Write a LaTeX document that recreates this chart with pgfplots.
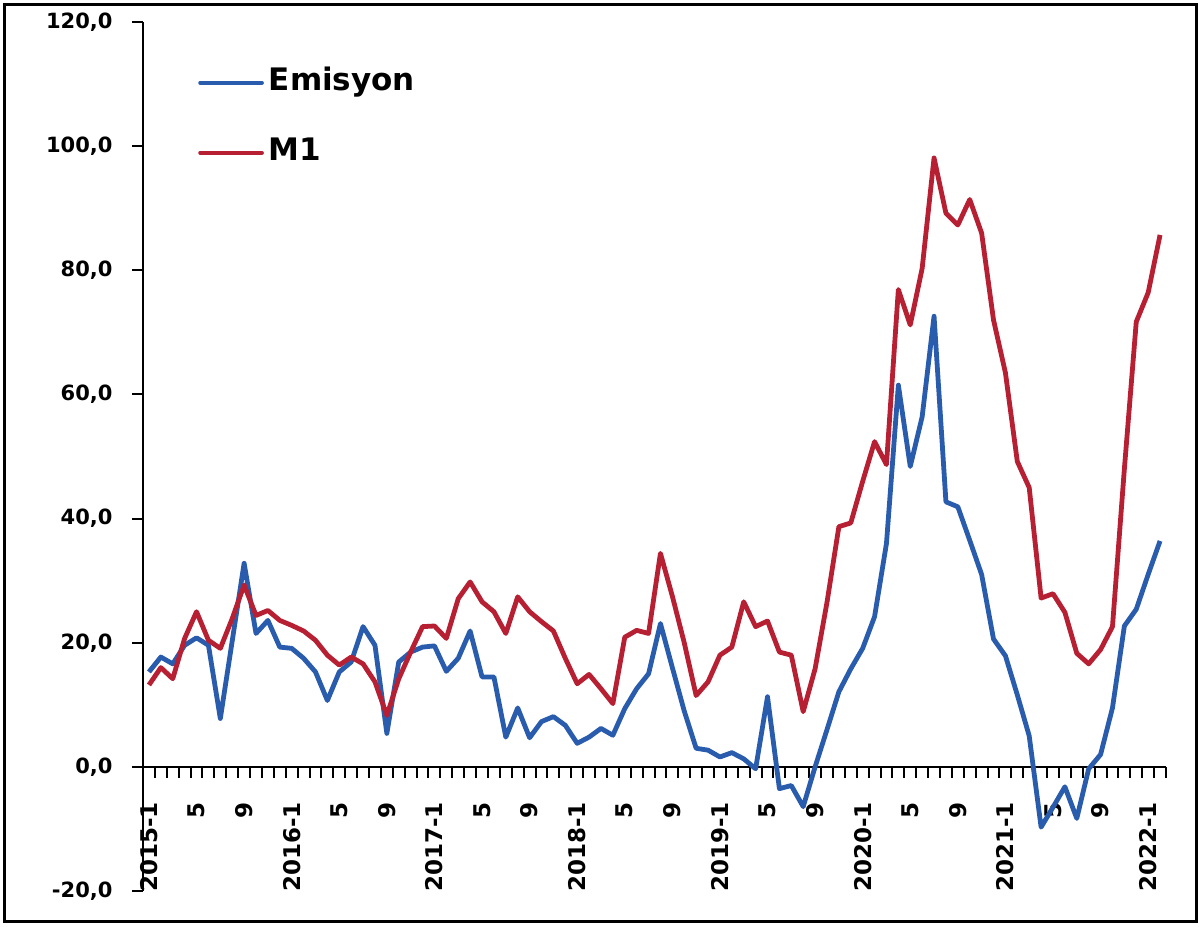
\documentclass[border=0pt]{standalone}
\usepackage{fontspec}
\setmainfont{DejaVu Sans}
\usepackage{pgfplots}
\usepackage{pgfplotstable}
\pgfplotsset{compat=1.18}

\definecolor{emblue}{RGB}{42,92,174}
\definecolor{mred}{RGB}{182,32,50}

% monthly series, 2015-1 ... 2022-2 (i = month index)
\pgfplotstableread{
i emis m1
0 15.3 13.2
1 17.7 16.0
2 16.6 14.2
3 19.6 20.7
4 20.8 25.0
5 19.6 20.4
6 7.8 19.1
7 20.3 23.9
8 32.8 29.3
9 21.5 24.4
10 23.6 25.2
11 19.3 23.6
12 19.1 22.8
13 17.5 21.9
14 15.3 20.4
15 10.7 18.0
16 15.3 16.4
17 16.9 17.7
18 22.6 16.6
19 19.6 13.7
20 5.4 8.3
21 16.9 14.2
22 18.5 18.5
23 19.3 22.6
24 19.5 22.7
25 15.4 20.7
26 17.5 27.1
27 21.9 29.8
28 14.5 26.6
29 14.5 25.0
30 4.8 21.5
31 9.5 27.4
32 4.7 25.0
33 7.3 23.4
34 8.1 21.9
35 6.7 17.5
36 3.8 13.4
37 4.8 14.9
38 6.2 12.6
39 5.1 10.2
40 9.4 20.9
41 12.6 22.0
42 15.0 21.5
43 23.1 34.4
44 16.0 27.5
45 9.0 20.0
46 3.0 11.5
47 2.7 13.7
48 1.6 18.0
49 2.3 19.3
50 1.3 26.6
51 -0.3 22.6
52 11.3 23.5
53 -3.5 18.5
54 -3.0 18.0
55 -6.4 8.9
56 0.0 15.8
57 6.0 26.5
58 12.1 38.7
59 15.8 39.3
60 19.1 46.0
61 24.2 52.4
62 36.0 48.7
63 61.5 76.9
64 48.4 71.2
65 56.4 80.3
66 72.6 98.1
67 42.7 89.2
68 41.9 87.3
69 36.5 91.4
70 31.0 86.0
71 20.6 72.0
72 17.9 63.5
73 11.6 49.2
74 5.0 45.0
75 -9.7 27.2
76 -6.5 27.9
77 -3.2 24.9
78 -8.3 18.3
79 -0.3 16.6
80 2.0 18.9
81 9.5 22.6
82 22.7 48.0
83 25.4 71.7
84 31.0 76.4
85 36.4 85.7
}\data

\begin{document}
\begin{tikzpicture}
\begin{axis}[
  scale only axis, width=1023pt, height=869pt,
  xmin=-0.5, xmax=85.5, ymin=-20, ymax=120,
  axis y line=left, axis x line=middle,
  axis line style={-, line width=2pt, black},
  hide obscured x ticks=false, hide obscured y ticks=false,
  tick align=outside, major tick length=11pt,
  tick style={line width=2pt, black},
  ytick={-20,0,...,120},
  yticklabel style={font=\fontsize{21}{25}\selectfont\bfseries, xshift=-16pt,
    /pgf/number format/fixed, /pgf/number format/fixed zerofill,
    /pgf/number format/precision=1, /pgf/number format/use comma,
    /pgf/number format/assume math mode=true},
  xtick={-0.5,0.5,...,85.5}, xticklabel={\relax},
  extra x ticks={0,4,...,84},
  extra x tick labels={2015-1,5,9,2016-1,5,9,2017-1,5,9,2018-1,5,9,2019-1,5,9,2020-1,5,9,2021-1,5,9,2022-1},
  extra x tick style={major tick length=0pt, tick style={draw=none}},
  xticklabel style={font=\fontsize{23}{27}\selectfont\bfseries, yshift=-35pt, rotate=90, anchor=east, inner sep=0pt},
  legend style={at={(axis description cs:0.0538,0.947)}, anchor=north west,
    draw=none, fill=none, inner sep=0pt, row sep=41pt,
    font=\fontsize{31}{37}\selectfont\bfseries,
    nodes={inner sep=0pt, text height=22pt, text depth=7pt},
    /tikz/every odd column/.append style={column sep=5pt}},
  legend cell align=left,
  legend image code/.code={\draw[#1, line width=3.6pt, line cap=round] (0pt,0pt) -- (62pt,0pt);},
]
\addplot[emblue, line width=4.8pt, line join=round] table[x=i, y=emis]{\data};
\addlegendentry{Emisyon}
\addplot[mred, line width=4.8pt, line join=round] table[x=i, y=m1]{\data};
\addlegendentry{M1}
\coordinate (ll) at (rel axis cs:0,0);
\coordinate (ur) at (rel axis cs:1,1);
\end{axis}
\path ([xshift=-143pt,yshift=-35pt]ll) rectangle ([xshift=34pt,yshift=22pt]ur);
\draw[line width=3pt] ([xshift=-138.5pt,yshift=-30.3pt]ll) rectangle ([xshift=30.5pt,yshift=17.5pt]ur);
\end{tikzpicture}
\end{document}
